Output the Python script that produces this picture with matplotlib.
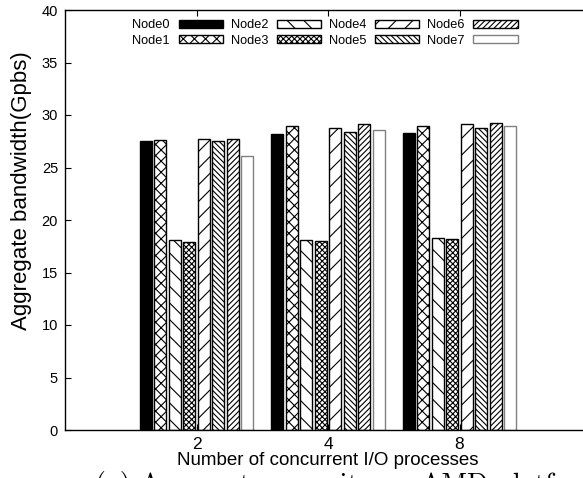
import numpy as np
import matplotlib.pyplot as plt

plt.rcParams["font.family"] = ["Liberation Sans", "DejaVu Sans"]
plt.rcParams["hatch.linewidth"] = 0.8

groups = ["2", "4", "8"]
nodes = ["Node0", "Node1", "Node2", "Node3", "Node4", "Node5", "Node6", "Node7"]
values = {
    "Node0": [27.5, 28.2, 28.3],
    "Node1": [27.6, 29.0, 29.0],
    "Node2": [18.1, 18.1, 18.25],
    "Node3": [17.9, 18.0, 18.2],
    "Node4": [27.7, 28.75, 29.1],
    "Node5": [27.5, 28.35, 28.75],
    "Node6": [27.7, 29.1, 29.2],
    "Node7": [26.1, 28.6, 29.0],
}
hatches = ["", "xxx", "\\\\", "xxxxxx", "//", "\\\\\\\\\\\\", "//////", ""]
faces = ["black", "white", "white", "white", "white", "white", "white", "white"]
edges = ["black"] * 7 + ["#808080"]

fig = plt.figure(figsize=(5.83, 4.78), dpi=100)
# the plot runs off the right edge, as in the cropped original
ax = fig.add_axes([65 / 583, 48 / 478, 526 / 583, 420 / 478])

x = np.arange(1, len(groups) + 1)
slot = 0.11
width = 0.09
for i, name in enumerate(nodes):
    ax.bar(x + (i - 3.5) * slot, values[name], width, color=faces[i],
           edgecolor=edges[i], hatch=hatches[i], linewidth=1.0, label=name)

ax.set_xlim(0, 4)
ax.set_ylim(0, 40)
ax.set_xticks(x)
ax.set_xticklabels(groups)
ax.set_yticks(np.arange(0, 41, 5))
ax.tick_params(direction="in", length=4, top=True, right=True, labelsize=10.5, pad=5)
ax.tick_params(axis="x", labelsize=12.5, pad=5)
for s in ax.spines.values():
    s.set_linewidth(1.0)
ax.spines["right"].set_visible(False)
ax.set_xlabel("Number of concurrent I/O processes", fontsize=13.5, labelpad=0)
ax.set_ylabel("Aggregate bandwidth(Gpbs)", fontsize=16)
ax.yaxis.set_label_coords(-0.063, 0.571)

ax.legend(ncol=4, loc="upper center", bbox_to_anchor=(325 / 583, 465 / 478),
          bbox_transform=fig.transFigure, frameon=False, fontsize=9.2,
          markerfirst=False, handlelength=3.45, handleheight=0.62,
          handletextpad=0.7, columnspacing=0.6, labelspacing=0.25, borderpad=0)

fig.text(95 / 583, 7 / 478, "(a) Aggregate capacity on AMD platform",
         family=["cmr10", "DejaVu Serif"], fontsize=20, va="top", ha="left")

fig.savefig("out.png", dpi=100)
